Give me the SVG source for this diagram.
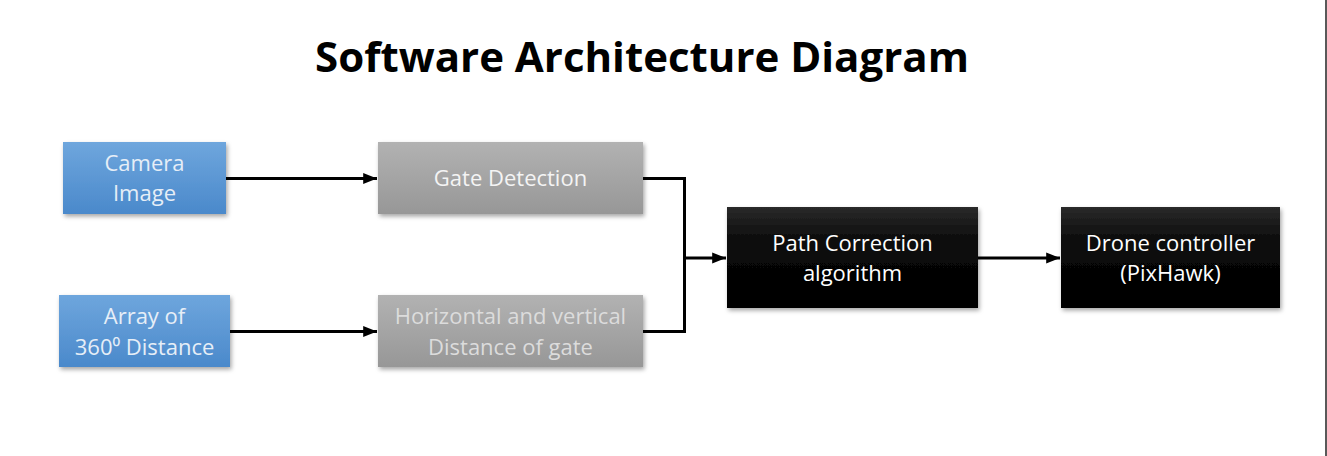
<svg xmlns="http://www.w3.org/2000/svg" width="1327" height="456" viewBox="0 0 1327 456">
<defs>
<linearGradient id="gBlue" x1="0" y1="0" x2="0" y2="1"><stop offset="0" stop-color="#6ea6dd"/><stop offset="1" stop-color="#4a89cb"/></linearGradient>
<linearGradient id="gGray" x1="0" y1="0" x2="0" y2="1"><stop offset="0" stop-color="#b2b2b2"/><stop offset="1" stop-color="#979797"/></linearGradient>
<linearGradient id="gBlack" x1="0" y1="0" x2="0" y2="1"><stop offset="0" stop-color="#2a2a2a"/><stop offset="0.35" stop-color="#0a0a0a"/><stop offset="1" stop-color="#000"/></linearGradient>
<filter id="sh" x="-10%" y="-10%" width="125%" height="130%"><feDropShadow dx="1.5" dy="2.5" stdDeviation="2" flood-color="#000" flood-opacity="0.35"/></filter>
<marker id="arr" viewBox="0 0 10 10" refX="10" refY="5" markerWidth="4.6" markerHeight="4.6" orient="auto" markerUnits="strokeWidth"><path d="M0,1 L10,5 L0,9 z" fill="#000"/></marker>
<style>
.t{font-family:"Open Sans","Liberation Sans",sans-serif;font-size:22px;text-anchor:middle}
.lb{fill:#e6eef7}
.lg{fill:#f4f4f4}
.lg2{fill:#dcdcdc}
.lw{fill:#fff}
.c{fill:none;stroke:#000;stroke-width:3}
</style>
</defs>
<rect width="1327" height="456" fill="#fff"/>
<line x1="1326" y1="0" x2="1326" y2="456" stroke="#222" stroke-width="1.5"/>
<text x="642" y="72" font-family="Open Sans,Liberation Sans,sans-serif" font-weight="bold" font-size="42" text-anchor="middle" fill="#000">Software Architecture Diagram</text>
<g id="connectors">
<line class="c" x1="226" y1="178.5" x2="377" y2="178.5" marker-end="url(#arr)"/>
<line class="c" x1="230" y1="331.5" x2="377" y2="331.5" marker-end="url(#arr)"/>
<polyline class="c" points="643,178.5 684.5,178.5 684.5,331.5 643,331.5"/>
<line class="c" x1="684.5" y1="258" x2="726" y2="258" marker-end="url(#arr)"/>
<line class="c" x1="978" y1="258" x2="1060" y2="258" marker-end="url(#arr)"/>
</g>
<g id="camera"><rect x="63" y="142" width="163" height="72" fill="url(#gBlue)" filter="url(#sh)"/><text class="t lb" x="144.5" y="171">Camera</text><text class="t lb" x="144.5" y="201">Image</text></g>
<g id="array"><rect x="59" y="295" width="171" height="72" fill="url(#gBlue)" filter="url(#sh)"/><text class="t lb" x="144.5" y="324">Array of</text><text class="t lb" x="144.5" y="355">360⁰ Distance</text></g>
<g id="gate"><rect x="378" y="142" width="265" height="72" fill="url(#gGray)" filter="url(#sh)"/><text class="t lg" x="510.5" y="186">Gate Detection</text></g>
<g id="distance"><rect x="378" y="295" width="265" height="72" fill="url(#gGray)" filter="url(#sh)"/><text class="t lg2" x="510.5" y="324">Horizontal and vertical</text><text class="t lg2" x="510.5" y="355">Distance of gate</text></g>
<g id="path"><rect x="727" y="207" width="251" height="101" fill="url(#gBlack)" filter="url(#sh)"/><text class="t lw" x="852.5" y="251">Path Correction</text><text class="t lw" x="852.5" y="281">algorithm</text></g>
<g id="drone"><rect x="1061" y="207" width="219" height="101" fill="url(#gBlack)" filter="url(#sh)"/><text class="t lw" x="1170.5" y="251">Drone controller</text><text class="t lw" x="1170.5" y="281">(PixHawk)</text></g>
</svg>
